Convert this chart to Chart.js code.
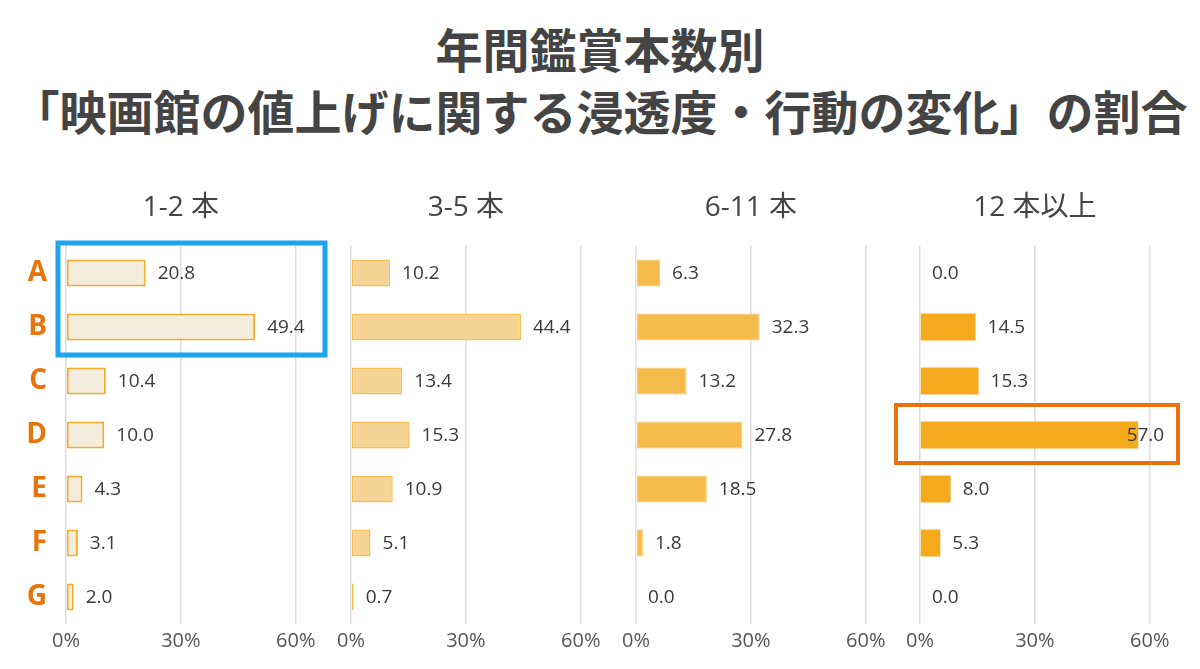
<!DOCTYPE html>
<html lang="ja">
<head>
<meta charset="utf-8">
<script src="https://cdn.jsdelivr.net/npm/chart.js@4.4.1/dist/chart.umd.min.js"></script>
<style>
  html, body { margin: 0; padding: 0; background: #fff; }
  body { width: 1200px; height: 669px; position: relative; overflow: hidden; }
  h1 {
    position: absolute; left: 0; top: 17px; width: 1200px; margin: 0;
    text-align: center; color: #444;
    font-family: "Noto Sans CJK JP", sans-serif; font-weight: 700;
    font-size: 47px; line-height: 62px;
  }
  .panel { position: absolute; top: 170px; width: 340px; height: 499px; }
</style>
</head>
<body>
<h1>年間鑑賞本数別<br>「映画館の値上げに関する浸透度・行動の変化」の割合</h1>
<div class="panel" style="left:0px"><canvas id="p0"></canvas></div>
<div class="panel" style="left:285px"><canvas id="p1"></canvas></div>
<div class="panel" style="left:570px"><canvas id="p2"></canvas></div>
<div class="panel" style="left:854px"><canvas id="p3"></canvas></div>
<script>
// categories and values
const CATEGORIES = ['A', 'B', 'C', 'D', 'E', 'F', 'G'];
const GROUPS = ['1-2 本', '3-5 本', '6-11 本', '12 本以上'];
const TICKS = [0, 30, 60];

const values12 = [20.8, 49.4, 10.4, 10.0, 4.3, 3.1, 2.0];
const values35 = [10.2, 44.4, 13.4, 15.3, 10.9, 5.1, 0.7];
const values611 = [6.3, 32.3, 13.2, 27.8, 18.5, 1.8, 0.0];
const values12plus = [0.0, 14.5, 15.3, 57.0, 8.0, 5.3, 0.0];

const SERIES = [values12, values35, values611, values12plus];
const FILLS = ['#f4ecdc', '#f5d495', '#f5bc4b', '#f5aa1e'];
const BORDERS = ['#f5ab2a', '#f3c055', '#f7ca6a', '#f5aa1e'];
const BORDER_W = [2, 1.5, 1, 0];

// highlight boxes: [panel, firstCategory, lastCategory, colour]
const HIGHLIGHTS = [[0, 0, 1, '#1fa4ec'], [3, 3, 3, '#e8720c']];

const FONT = '"Open Sans", "Noto Sans CJK JP", sans-serif';

// value label to the right of each bar; long bars get it pulled back over the bar end
const valueLabels = {
  id: 'valueLabels',
  afterDatasetsDraw(chart) {
    const ctx = chart.ctx;
    const xs = chart.scales.x;
    const meta = chart.getDatasetMeta(0);
    const data = chart.data.datasets[0].data;
    ctx.save();
    ctx.font = '19px ' + FONT;
    ctx.fillStyle = '#3a3a3a';
    ctx.textBaseline = 'middle';
    meta.data.forEach((bar, i) => {
      const txt = data[i].toFixed(1);
      const w = ctx.measureText(txt).width;
      if (bar.x + 12 + w > xs.getPixelForValue(60) + 20) {
        ctx.textAlign = 'right';
        ctx.fillText(txt, bar.x + 26, bar.y + 1);
      } else {
        ctx.textAlign = 'left';
        ctx.fillText(txt, bar.x + 12, bar.y + 1);
      }
    });
    ctx.restore();
  }
};

// panel heading above the plot
const panelTitle = {
  id: 'panelTitle',
  afterDraw(chart, args, opts) {
    const ctx = chart.ctx;
    const xs = chart.scales.x;
    ctx.save();
    ctx.font = '28px ' + FONT;
    ctx.fillStyle = '#444';
    ctx.textAlign = 'center';
    ctx.textBaseline = 'middle';
    ctx.fillText(opts.text, xs.getPixelForValue(30), chart.chartArea.top - 38);
    ctx.restore();
  }
};

// outline boxes around highlighted rows
const highlight = {
  id: 'highlight',
  afterDraw(chart, args, opts) {
    if (!opts.boxes) return;
    const ctx = chart.ctx;
    const ys = chart.scales.y;
    const xs = chart.scales.x;
    opts.boxes.forEach(([from, to, colour, lw]) => {
      const half = 27;
      const top = ys.getPixelForValue(from) - half - 3;
      const bottom = ys.getPixelForValue(to) + half + 1;
      const left = xs.left - (from === 0 ? 8 : 24);
      const right = chart.chartArea.right - (from === 0 ? 9 : 10);
      ctx.save();
      ctx.strokeStyle = colour;
      ctx.lineWidth = lw;
      ctx.strokeRect(left, top, right - left, bottom - top);
      ctx.restore();
    });
  }
};

GROUPS.forEach((g, p) => {
  const boxes = HIGHLIGHTS.filter(h => h[0] === p).map(h => [h[1], h[2], h[3], p === 0 ? 5 : 4]);
  new Chart(document.getElementById('p' + p), {
    type: 'bar',
    data: {
      labels: CATEGORIES,
      datasets: [{
        data: SERIES[p],
        backgroundColor: FILLS[p],
        borderColor: BORDERS[p],
        borderWidth: BORDER_W[p],
        borderSkipped: false,
        categoryPercentage: 0.5,
        barPercentage: 1
      }]
    },
    plugins: [valueLabels, panelTitle, highlight],
    options: {
      indexAxis: 'y',
      responsive: true,
      maintainAspectRatio: false,
      animation: false,
      events: [],
      layout: { padding: { top: 76, right: 6, left: 0, bottom: 0 } },
      plugins: {
        legend: { display: false },
        tooltip: { enabled: false },
        panelTitle: { text: g },
        highlight: { boxes: boxes }
      },
      scales: {
        x: {
          min: 0, max: 70,
          afterBuildTicks(axis) { axis.ticks = TICKS.map(v => ({ value: v })); },
          afterFit(axis) { axis.height = 45; },
          border: { display: false },
          grid: { color: '#dedede', lineWidth: 1.5, drawTicks: false },
          ticks: {
            padding: 5,
            color: '#555',
            font: { family: FONT, size: 20 },
            callback: v => v + '%'
          }
        },
        y: {
          afterFit(axis) { axis.width = 66; },
          border: { display: false },
          grid: { display: false },
          ticks: {
            display: p === 0,
            padding: 11,
            color: '#e8740c',
            font: { family: FONT, size: 28, weight: 'bold' }
          }
        }
      }
    }
  });
});
</script>
</body>
</html>
